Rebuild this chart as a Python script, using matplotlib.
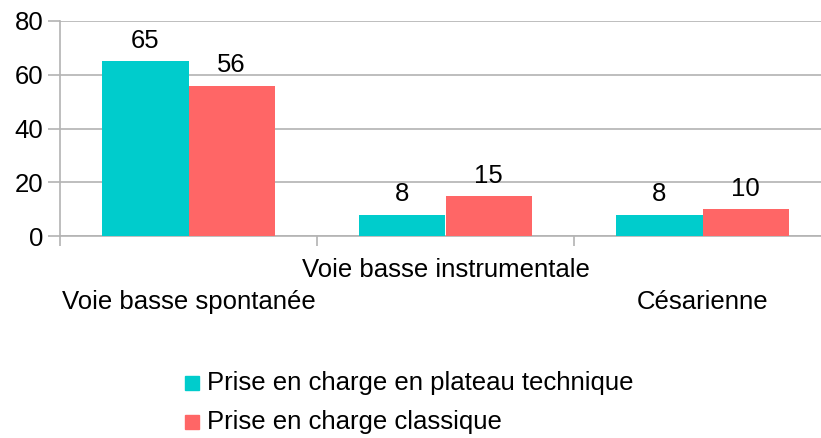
import matplotlib.pyplot as plt
import numpy as np

# --- Data ---
categories = ["Voie basse spontanée", "Voie basse instrumentale", "Césarienne"]
plateau = [65, 8, 8]
classique = [56, 15, 10]
series_names = ["Prise en charge en plateau technique", "Prise en charge classique"]
yticks = [0, 20, 40, 60, 80]

COL_TEAL = "#00CCCC"
COL_RED = "#FF6666"
GRID = "#B3B3B3"
FS = 18.5

plt.rcParams['font.family'] = ['Liberation Sans', 'DejaVu Sans']

W, H = 821, 438
fig = plt.figure(figsize=(W / 100, H / 100), dpi=100)
# plot area: x 60..821 px, y 21..236 px
ax = fig.add_axes([60 / W, 1 - 236 / H, (821 - 60) / W, (236 - 21) / H])

x = np.arange(len(categories))
bw = 0.335
b1 = ax.bar(x - bw / 2, plateau, bw, color=COL_TEAL, zorder=3)
b2 = ax.bar(x + bw / 2, classique, bw, color=COL_RED, zorder=3)

for bars, vals in ((b1, plateau), (b2, classique)):
    for rect, v in zip(bars, vals):
        ax.text(rect.get_x() + rect.get_width() / 2, v + 3, str(v),
                ha='center', va='bottom', fontsize=FS)

ax.set_xlim(-0.5, (821 - 60) / 257 - 0.5)
ax.set_ylim(0, 80)
ax.set_yticks(yticks)
ax.set_yticklabels([str(t) for t in yticks], fontsize=FS)
ax.yaxis.grid(True, color=GRID, linewidth=1.2, zorder=0)
ax.tick_params(axis='y', length=9, color=GRID, width=1.2, pad=3)

# category boundaries as ticks
ax.set_xticks(np.arange(len(categories)) - 0.5)
ax.set_xticklabels([])
ax.tick_params(axis='x', length=7, color=GRID, width=1.2)

for s in ['top', 'right']:
    ax.spines[s].set_visible(False)
for s in ['left', 'bottom']:
    ax.spines[s].set_color(GRID)
    ax.spines[s].set_linewidth(1.2)

# staggered category labels
for i, name in enumerate(categories):
    ypx = 270 if i % 2 == 1 else 302
    fig.text((60 + 257 * (i + 0.5)) / W, 1 - ypx / H, name,
             ha='center', va='center', fontsize=FS)

# legend
for j, (name, col) in enumerate(zip(series_names, [COL_TEAL, COL_RED])):
    ypx = 383 + 39 * j
    fig.patches.append(plt.Rectangle((185 / W, 1 - (ypx + 7) / H), 14 / W, 14 / H,
                                     transform=fig.transFigure, color=col, figure=fig))
    fig.text(207 / W, 1 - ypx / H, name, ha='left', va='center', fontsize=FS)

fig.savefig("out.png", dpi=100)
